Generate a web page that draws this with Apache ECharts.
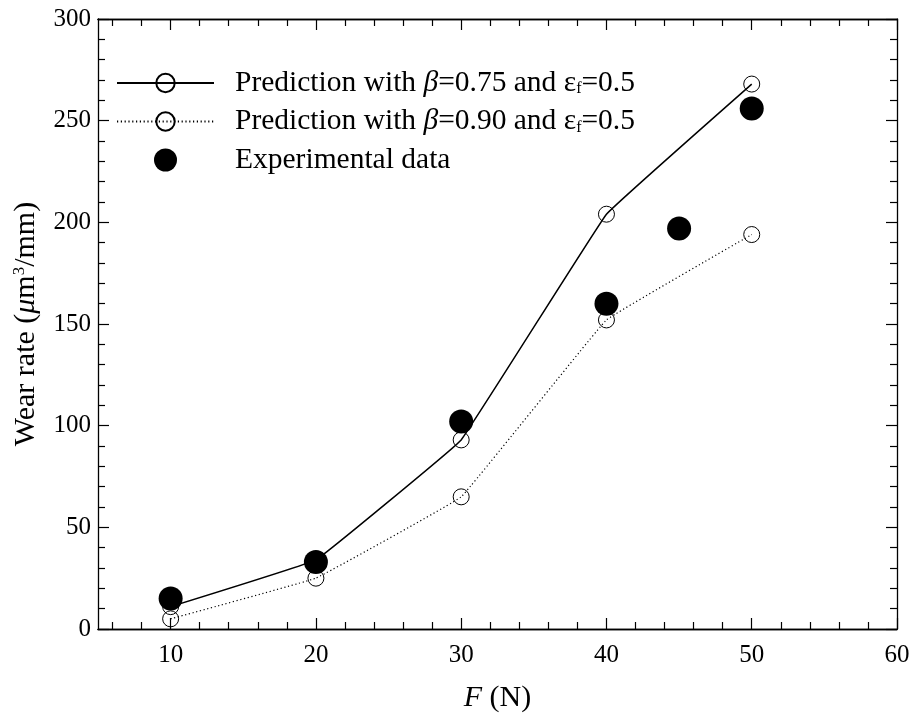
<!DOCTYPE html>
<html>
<head>
<meta charset="utf-8">
<script src="https://cdn.jsdelivr.net/npm/echarts@6/dist/echarts.min.js"></script>
<style>
  html, body { margin: 0; padding: 0; background: #fff; }
  #chart { width: 918px; height: 719px; }
</style>
</head>
<body>
<div id="chart"></div>
<script>
const serif = "Liberation Serif";
const ink = "#000";

// data
const forceN = [10, 20, 30, 40, 50];
const predBeta075 = [11, 34, 93, 204, 268];
const predBeta090 = [5, 25, 65, 152, 194];
const expForce = [10, 20, 30, 40, 45, 50];
const expWear = [15, 33, 102, 160, 197, 256];

const xMajor = [10, 20, 30, 40, 50, 60];
const xMinor = [6, 8, 12, 14, 16, 18, 22, 24, 26, 28, 32, 34, 36, 38, 42, 44, 46, 48, 52, 54, 56, 58];

const legendNames = ["Prediction with β=0.75 and εf=0.5", "Prediction with β=0.90 and εf=0.5", "Experimental data"];

const chart = echarts.init(document.getElementById("chart"), null, { renderer: "canvas" });

function xAxis(position, ticks, length, withLabels) {
  return {
    type: "value",
    position,
    min: 5,
    max: 60,
    axisLine: { show: true, onZero: false, lineStyle: { color: ink, width: 1.3 } },
    axisTick: { show: true, inside: true, length, customValues: ticks, lineStyle: { color: ink, width: 1.2 } },
    axisLabel: withLabels
      ? { show: true, customValues: ticks, margin: 14, color: ink, fontFamily: serif, fontSize: 25 }
      : { show: false },
    splitLine: { show: false },
  };
}

function yAxis(position, withLabels) {
  return {
    type: "value",
    position,
    min: 0,
    max: 300,
    interval: 50,
    axisLine: { show: true, onZero: false, lineStyle: { color: ink, width: 1.3 } },
    axisTick: { show: true, inside: true, length: 11, lineStyle: { color: ink, width: 1.2 } },
    minorTick: { show: true, splitNumber: 5, length: 7, lineStyle: { color: ink, width: 1.2 } },
    axisLabel: withLabels
      ? { show: true, margin: 7, color: ink, fontFamily: serif, fontSize: 25 }
      : { show: false },
    splitLine: { show: false },
    minorSplitLine: { show: false },
  };
}

function richLegend(name) {
  if (name === legendNames[2]) return "{pad|}{n|" + name + "}";
  const beta = name.indexOf("0.75") > 0 ? "0.75" : "0.90";
  return "{pad|}{n|Prediction with }{i|β}{n|=" + beta + " and ε}{s|f}{n|=0.5}";
}

const legendText = { fontFamily: serif, fontSize: 29.5, color: ink, lineHeight: 28 };

chart.setOption({
  animation: false,
  backgroundColor: "#fff",
  grid: { left: 98, right: 21, top: 19, bottom: 90, containLabel: false },
  legend: {
    orient: "vertical",
    left: 111,
    top: 63,
    itemWidth: 97,
    itemHeight: 23,
    itemGap: 8.5,
    selectedMode: false,
    data: legendNames,
    formatter: richLegend,
    textStyle: {
      ...legendText,
      rich: {
        pad: { width: 16 },
        n: { ...legendText },
        i: { ...legendText, fontStyle: "italic" },
        s: { fontFamily: serif, fontSize: 16, color: ink, padding: [12, 0, 0, 0] },
      },
    },
  },
  xAxis: [
    {
      ...xAxis("bottom", xMajor, 11, true),
      name: "{i|F}{n| (N)}",
      nameLocation: "middle",
      nameGap: 54,
      nameTextStyle: {
        rich: {
          n: { fontFamily: serif, fontSize: 30, color: ink },
          i: { fontFamily: serif, fontSize: 30, color: ink, fontStyle: "italic" },
        },
      },
    },
    xAxis("bottom", xMinor, 7, false),
    xAxis("top", xMajor, 11, false),
    xAxis("top", xMinor, 7, false),
  ],
  yAxis: [
    {
      ...yAxis("left", true),
      name: "{n|Wear rate (}{i|μ}{n|m}{sup|3}{n|/mm)}",
      nameLocation: "middle",
      nameGap: 56,
      nameTextStyle: {
        rich: {
          n: { fontFamily: serif, fontSize: 30, color: ink },
          i: { fontFamily: serif, fontSize: 30, color: ink, fontStyle: "italic" },
          sup: { fontFamily: serif, fontSize: 17, color: ink, padding: [0, 0, 14, 0] },
        },
      },
    },
    yAxis("right", false),
  ],
  series: [
    {
      name: legendNames[0],
      type: "line",
      smooth: 0.05,
      data: forceN.map((f, i) => [f, predBeta075[i]]),
      symbol: "circle",
      symbolSize: 16,
      itemStyle: { color: "rgba(255,255,255,0)", borderColor: ink, borderWidth: 1 },
      lineStyle: { color: ink, width: 1.5, type: "solid" },
      z: 2,
    },
    {
      name: legendNames[1],
      type: "line",
      smooth: 0.05,
      data: forceN.map((f, i) => [f, predBeta090[i]]),
      symbol: "circle",
      symbolSize: 16,
      itemStyle: { color: "rgba(255,255,255,0)", borderColor: ink, borderWidth: 1 },
      lineStyle: { color: ink, width: 1.2, type: [1.2, 2.6] },
      z: 2,
    },
    {
      name: legendNames[2],
      type: "scatter",
      data: expForce.map((f, i) => [f, expWear[i]]),
      symbol: "circle",
      symbolSize: 24,
      itemStyle: { color: ink, opacity: 1 },
      z: 3,
    },
  ],
});
</script>
</body>
</html>
